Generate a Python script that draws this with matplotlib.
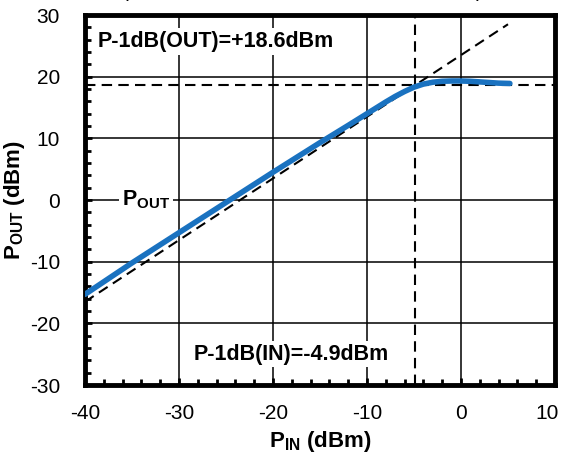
import matplotlib
matplotlib.use("Agg")
import matplotlib.pyplot as plt
import matplotlib.transforms as mtransforms
import numpy as np

plt.rcParams['font.family'] = ['Liberation Sans', 'DejaVu Sans']
plt.rcParams['mathtext.fontset'] = 'custom'
plt.rcParams['mathtext.rm'] = 'Liberation Sans'
plt.rcParams['mathtext.bf'] = 'Liberation Sans:bold'
plt.rcParams['axes.unicode_minus'] = False

# measured output power (blue curve)
pin = [-40, -35, -30, -25, -20, -15, -12, -10, -8, -7, -6, -5, -4, -3, -2, -1, 0, 1, 2, 3, 4, 5.2]
pout = [-15.3, -10.2, -5.3, -0.4, 4.5, 9.3, 12.1, 14.0, 15.9, 16.8, 17.6, 18.3, 18.8, 19.1, 19.25,
        19.3, 19.3, 19.25, 19.15, 19.05, 18.95, 18.9]

# ideal linear extrapolation (dashed)
ideal_pin = [-40, 5]
ideal_pout = [-16.5, 28.5]

p1db_in = -4.9
p1db_out = 18.6

fig = plt.figure(figsize=(5.65, 4.66), dpi=100)
ax = fig.add_axes([0.1504, 0.1738, 0.8319, 0.7940])

ax.set_xlim(-40, 10)
ax.set_ylim(-30, 30)
ax.set_xticks(np.arange(-40, 11, 10))
ax.set_yticks(np.arange(-30, 31, 10))
ax.set_xticks(np.arange(-40, 11, 2), minor=True)
ax.set_yticks(np.arange(-30, 31, 2), minor=True)
ax.grid(True, which='major', color='black', linewidth=1.1)
ax.tick_params(which='both', direction='in', labelsize=15, top=False, right=False, width=2)
ax.tick_params(which='major', length=5)
ax.tick_params(axis='x', which='major', pad=14)
ax.tick_params(axis='y', which='major', pad=18)
ax.tick_params(which='minor', length=4)
for s in ax.spines.values():
    s.set_linewidth(3.5)

# keep the last x tick label inside the figure
last = ax.get_xticklabels()[-1]
last.set_transform(last.get_transform() + mtransforms.ScaledTranslation(-8 / 100, 0, fig.dpi_scale_trans))

ax.plot(ideal_pin, ideal_pout, color='black', linestyle=(0, (5, 3)), linewidth=1.5, zorder=3)
ax.axvline(p1db_in, color='black', linestyle=(0, (5, 3)), linewidth=1.5, zorder=3)
ax.axhline(p1db_out, color='black', linestyle=(0, (5, 3)), linewidth=1.5, zorder=3)
ax.plot(pin, pout, color='#1a72c0', linewidth=4, solid_capstyle='round', zorder=4)

box = dict(facecolor='white', edgecolor='none', pad=2)
ax.text(-38.7, 25.7, 'P-1dB(OUT)=+18.6dBm', fontsize=15.5, fontweight='bold',
        va='center', ha='left', bbox=box, zorder=5)
ax.text(-28.4, -25.0, 'P-1dB(IN)=-4.9dBm', fontsize=15.5, fontweight='bold',
        va='center', ha='left', bbox=box, zorder=5)
ax.text(-36.1, 0, r'P$_\mathbf{OUT}$', fontsize=15.5, fontweight='bold',
        va='center', ha='left', bbox=box, zorder=5)

ax.set_xlabel(r'P$_\mathbf{IN}$ (dBm)', fontsize=16, fontweight='bold', labelpad=4)
ax.set_ylabel(r'P$_\mathbf{OUT}$ (dBm)', fontsize=16, fontweight='bold', labelpad=2)

fig.text(0.535, 1.0 + 3 / 466, r'(V$_{DD}$ = 3.3V, V$_{CTL}$ = 3.3V, f = 2.45GHz)',
         fontsize=15, ha='center', va='baseline')

fig.savefig('out.png', dpi=100)
